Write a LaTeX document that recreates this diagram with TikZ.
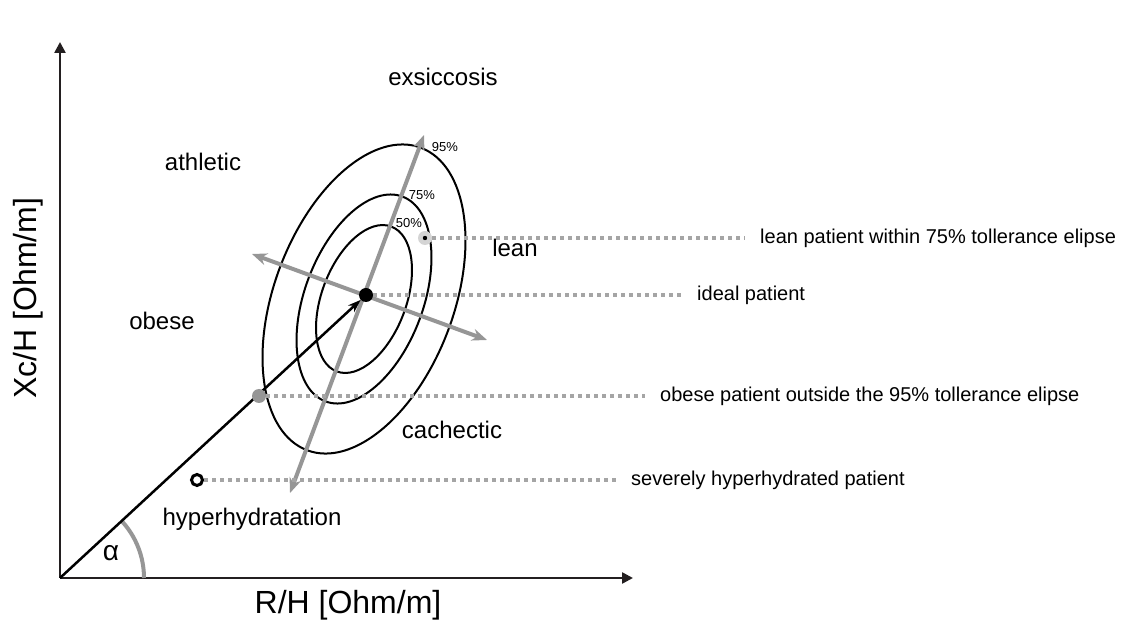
\documentclass[tikz,border=0pt]{standalone}
\usepackage{fontspec}
\setmainfont{Liberation Sans}
\usetikzlibrary{arrows.meta,shapes}
\definecolor{axisblack}{RGB}{35,31,32}
\definecolor{midgray}{RGB}{150,150,150}
\definecolor{dotgray}{RGB}{165,165,165}
\definecolor{palegray}{RGB}{212,212,212}

\begin{document}
\begin{tikzpicture}[x=1pt,y=1pt]
    \tikzstyle{axis}=[draw=axisblack,line width=2.5pt,-{Triangle[length=11pt,width=11pt]}]
    \tikzstyle{contour}=[draw=black,line width=2pt]
    \tikzstyle{principal}=[draw=midgray,line width=4pt,{Stealth[length=15pt,width=12pt]}-{Stealth[length=15pt,width=12pt]}]
    \tikzstyle{vector}=[draw=black,line width=2.5pt,-{Stealth[length=13pt,width=9pt]}]
    \tikzstyle{leader}=[draw=dotgray,line width=4pt,dash pattern=on 4pt off 4pt]
    \tikzstyle{anglearc}=[draw=midgray,line width=4pt]
    \tikzstyle{region}=[font=\fontsize{24}{28}\selectfont,inner sep=0pt]
    \tikzstyle{note}=[font=\fontsize{20}{24}\selectfont,anchor=west,inner xsep=15pt,inner ysep=0pt]
    \tikzstyle{percent}=[font=\fontsize{13}{15}\selectfont,inner sep=0pt]
    \tikzstyle{axislabel}=[font=\fontsize{32}{38}\selectfont,inner sep=0pt]
    \tikzstyle{patient}=[circle,minimum size=14pt,inner sep=0pt]

    \useasboundingbox (0,0) rectangle (1133,624);

    % axes
    \coordinate (O) at (60,46);
    \coordinate (ytop) at (60,582);
    \coordinate (xend) at (633,46);
    \draw [axis] (O) to (ytop);
    \draw [axis] (O) to (xend);
    \draw node at (28,326) [axislabel,rotate=90] (ylbl) {Xc/H [Ohm/m]};
    \draw node at (348,19) [axislabel] (xlbl) {R/H [Ohm/m]};

    % tolerance ellipses
    \coordinate (C) at (364,325);
    \draw [contour,rotate around={69.4:(C)}] (C) ellipse (161.6pt and 89.8pt);
    \draw [contour,rotate around={69.4:(C)}] (C) ellipse (109.4pt and 59.2pt);
    \draw [contour,rotate around={69.4:(C)}] (C) ellipse (77.4pt and 42.2pt);
    \draw node at (445,477) [percent] (p95) {95\%};
    \draw node at (422,429) [percent] (p75) {75\%};
    \draw node at (409,401) [percent] (p50) {50\%};

    % principal axes
    \coordinate (majtop) at (424,489);
    \coordinate (majbot) at (290,131);
    \coordinate (minleft) at (252,370);
    \coordinate (minright) at (487,284);
    \draw [principal] (majbot) to (majtop);
    \draw [principal] (minleft) to (minright);

    % angle
    \draw [anglearc] (144,46) arc[start angle=0,end angle=42.8,radius=84pt];
    \draw node at (111,71) [region,font=\fontsize{28}{32}\selectfont] (alpha) {α};

    % patients
    \draw node at (366,329) [patient,fill=black] (ideal) {};
    \draw [vector] (O) to (ideal);
    \draw node at (425,386) [patient,fill=palegray] (lean) {};
    \fill (lean) circle (2.2pt);
    \draw node at (259,228) [patient,fill=midgray] (obese) {};
    \draw node at (197,144) [patient,minimum size=11pt,draw=black,line width=3pt,fill=white] (hyper) {};

    % regions
    \draw node at (443,547) [region] (exs) {exsiccosis};
    \draw node at (203,462) [region] (ath) {athletic};
    \draw node at (515,376) [region] (lea) {lean};
    \draw node at (162,303) [region] (obe) {obese};
    \draw node at (452,194) [region] (cac) {cachectic};
    \draw node at (252,105) [region] (hyp) {hyperhydratation};

    % annotations
    \draw node at (745,386) [note] (leannote) {lean patient within 75\% tollerance elipse};
    \draw node at (682,329) [note] (idealnote) {ideal patient};
    \draw node at (645,228) [note] (obesenote) {obese patient outside the 95\% tollerance elipse};
    \draw node at (616,144) [note] (hypernote) {severely hyperhydrated patient};
    \draw [leader] (lean) to (leannote.west);
    \draw [leader] (ideal) to (idealnote.west);
    \draw [leader] (obese) to (obesenote.west);
    \draw [leader] (hyper) to (hypernote.west);
\end{tikzpicture}
\end{document}
